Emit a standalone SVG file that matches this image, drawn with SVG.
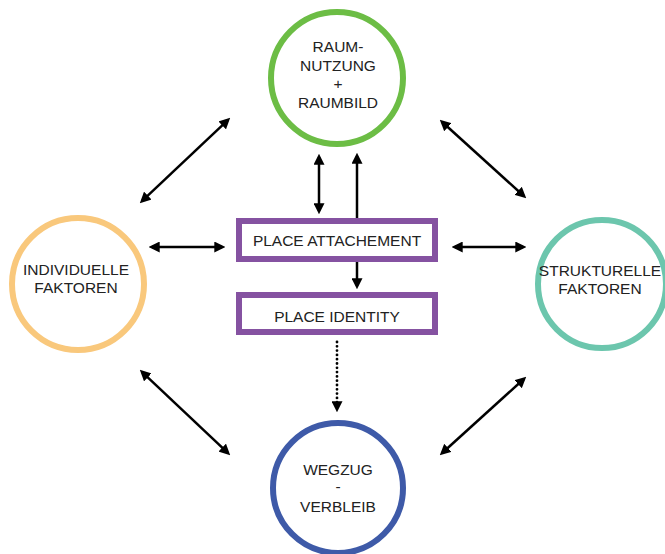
<svg xmlns="http://www.w3.org/2000/svg" width="665" height="554" viewBox="0 0 665 554">
<defs>
<style>
.lbl{font-family:"Liberation Sans",Arial,sans-serif;font-size:15.5px;fill:#222;text-anchor:middle}
.ring{fill:#fff;stroke-width:6}
.box{fill:#fff;stroke:#8552a1;stroke-width:6}
.arr{stroke:#000;stroke-width:2.5;fill:none}
.dot{stroke:#000;stroke-width:2.8;stroke-linecap:round;stroke-dasharray:0 4.3;fill:none}
</style>
<marker id="ah" markerUnits="userSpaceOnUse" viewBox="0 0 10 10" refX="7" refY="5" markerWidth="11" markerHeight="11" orient="auto-start-reverse">
<path d="M0,0 L10,5 L0,10 z" fill="#000"/>
</marker>
</defs>
<rect width="665" height="554" fill="#fff"/>
<g id="connectors">
<line class="arr" x1="142.2" y1="200.9" x2="227.8" y2="120.1" marker-start="url(#ah)" marker-end="url(#ah)"/>
<line class="arr" x1="442.2" y1="122.0" x2="523.8" y2="196.0" marker-start="url(#ah)" marker-end="url(#ah)"/>
<line class="arr" x1="142.2" y1="372.1" x2="227.8" y2="452.9" marker-start="url(#ah)" marker-end="url(#ah)"/>
<line class="arr" x1="523.8" y1="379.0" x2="442.2" y2="453.0" marker-start="url(#ah)" marker-end="url(#ah)"/>
<line class="arr" x1="152" y1="247" x2="222" y2="247" marker-start="url(#ah)" marker-end="url(#ah)"/>
<line class="arr" x1="455" y1="247" x2="523" y2="247" marker-start="url(#ah)" marker-end="url(#ah)"/>
<line class="arr" x1="319" y1="157" x2="319" y2="211" marker-start="url(#ah)" marker-end="url(#ah)"/>
<line class="arr" x1="357" y1="218" x2="357" y2="156" marker-end="url(#ah)"/>
<line class="arr" x1="357" y1="262" x2="357" y2="286" marker-end="url(#ah)"/>
<line class="dot" x1="337" y1="342" x2="337" y2="409" marker-end="url(#ah)"/>
</g>
<g id="raumnutzung">
<circle class="ring" cx="337" cy="78" r="66" stroke="#6cbd45"/>
<text class="lbl" x="338" y="52">RAUM-</text>
<text class="lbl" x="338" y="71">NUTZUNG</text>
<text class="lbl" x="338" y="89">+</text>
<text class="lbl" x="338" y="108">RAUMBILD</text>
</g>
<g id="individuelle">
<circle class="ring" cx="78" cy="284" r="66" stroke="#f9c87c"/>
<text class="lbl" x="76" y="275">INDIVIDUELLE</text>
<text class="lbl" x="76" y="293">FAKTOREN</text>
</g>
<g id="strukturelle">
<circle class="ring" cx="602" cy="284" r="64" stroke="#6cc6ad"/>
<text class="lbl" x="600" y="276">STRUKTURELLE</text>
<text class="lbl" x="600" y="294">FAKTOREN</text>
</g>
<g id="wegzug">
<circle class="ring" cx="338" cy="488" r="65" stroke="#3e5aa8"/>
<text class="lbl" x="338" y="475">WEGZUG</text>
<text class="lbl" x="338" y="492">-</text>
<text class="lbl" x="338" y="512">VERBLEIB</text>
</g>
<g id="attachement">
<rect class="box" x="239" y="221" width="196" height="38"/>
<text class="lbl" x="337" y="246">PLACE ATTACHEMENT</text>
</g>
<g id="identity">
<rect class="box" x="239" y="295" width="196" height="37"/>
<text class="lbl" x="337" y="322">PLACE IDENTITY</text>
</g>
</svg>
